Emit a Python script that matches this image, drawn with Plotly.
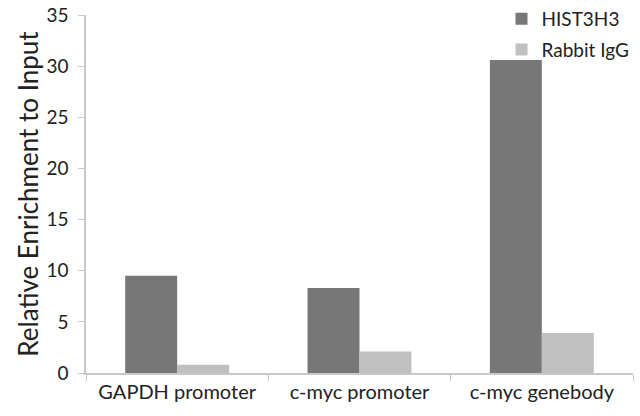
import plotly.graph_objects as go

categories = ['GAPDH promoter', 'c-myc promoter', 'c-myc genebody']
hist3h3 = [9.5, 8.3, 30.6]
rabbit_igg = [0.8, 2.1, 3.9]
y_ticks = [0, 5, 10, 15, 20, 25, 30, 35]

font_family = 'Lato, Carlito, Calibri, sans-serif'

fig = go.Figure()
fig.add_trace(go.Bar(x=categories, y=hist3h3, name='HIST3H3', legendgroup='a',
                     marker=dict(color='#777777', line=dict(width=0))))
fig.add_trace(go.Bar(x=categories, y=rabbit_igg, name='Rabbit IgG', legendgroup='b',
                     marker=dict(color='#c0c0c0', line=dict(width=0))))

# plot area: x 86..633, y 15..373 ; zero top/right margins so the legend stays inside the paper
fig.update_layout(
    width=640, height=416,
    margin=dict(l=86, r=0, t=0, b=43),
    paper_bgcolor='white', plot_bgcolor='white',
    barmode='group', bargap=0.43, bargroupgap=0,
    font=dict(family=font_family, color='#222222', size=19),
    showlegend=True,
    legend=dict(x=0.75, y=1.0, xanchor='left', yanchor='top',
                bgcolor='rgba(0,0,0,0)', font=dict(size=19),
                itemsizing='constant', tracegroupgap=3),
    xaxis=dict(domain=[0, 547 / 554], showline=True, linecolor='#c8c8c8', linewidth=1.5,
               automargin=False, ticks='outside', tickson='boundaries', ticklen=6,
               tickcolor='#c8c8c8', showgrid=False, tickfont=dict(size=20), tickangle=0),
    yaxis=dict(domain=[0, 358 / 373], range=[0, 35], tickvals=y_ticks, showline=True,
               linecolor='#c8c8c8', linewidth=1.5, automargin=False, ticks='outside',
               ticklen=6, tickcolor='#c8c8c8', showgrid=False, zeroline=False,
               ticklabelstandoff=6,
               title=dict(text='Relative Enrichment to Input', font=dict(size=26), standoff=0),
               tickfont=dict(size=19)),
)

# the page body has a default 8px margin that would shift the chart
fig.write_html('out.html', config={'displayModeBar': False},
               post_script="document.body.style.margin='0';")
